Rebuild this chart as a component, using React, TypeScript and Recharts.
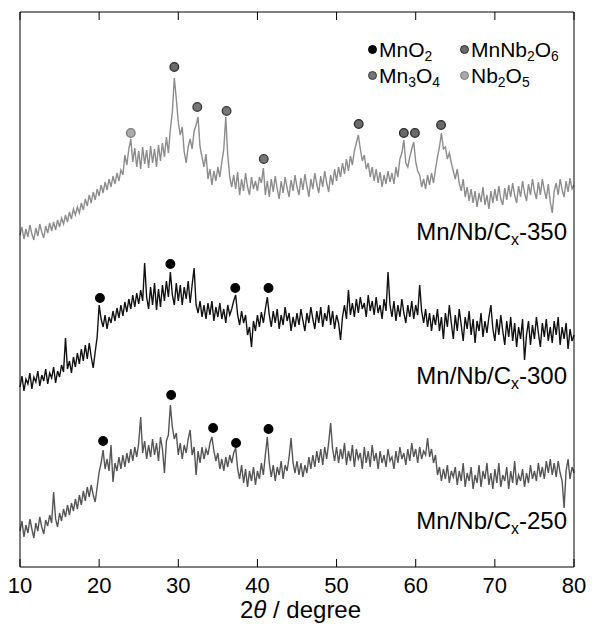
import React from "react";
import { ComposedChart, Line, Scatter, XAxis, YAxis } from "recharts";

// 2θ grid of the scans
const START = 10;
const STEP = 0.25;

const xTicks = [10, 20, 30, 40, 50, 60, 70, 80];

// intensities (a.u., offset stacked), one row = 5°
const mnNbCx350 = [
  332, 340, 328, 338, 330, 342, 333, 327, 339, 331, 343, 335, 329, 341, 334, 344, 336, 345, 337, 347,
  340, 349, 343, 352, 345, 355, 348, 358, 352, 360, 354, 364, 357, 368, 361, 372, 364, 375, 367, 378,
  371, 382, 374, 385, 377, 388, 380, 391, 383, 394, 386, 397, 392, 412, 402, 418, 428, 405, 419, 400,
  416, 398, 420, 403, 417, 399, 421, 404, 418, 400, 422, 406, 424, 410, 430, 414, 438, 455, 489, 468,
  445, 432, 440, 415, 404, 420, 428, 418, 436, 442, 450, 420, 410, 400, 413, 388, 398, 382, 396, 386,
  400, 390, 405, 418, 450, 412, 390, 380, 392, 378, 395, 372, 388, 376, 394, 380, 372, 390, 378, 386,
  376, 390, 384, 399, 372, 386, 370, 388, 375, 391, 378, 368, 386, 374, 390, 379, 370, 387, 376, 392,
  380, 372, 389, 377, 393, 381, 370, 388, 378, 394, 383, 374, 391, 380, 396, 384, 375, 392, 382, 398,
  386, 400, 390, 404, 393, 408, 396, 411, 402, 416, 424, 432, 418, 406, 412, 398, 404, 390, 400, 386,
  398, 384, 395, 380, 392, 383, 396, 385, 394, 383, 400, 390, 408, 414, 427, 404, 400, 410, 418, 425,
  405, 396, 392, 380, 388, 378, 392, 382, 394, 384, 398, 410, 420, 434, 418, 420, 408, 414, 404, 396,
  388, 398, 384, 376, 388, 370, 380, 366, 378, 364, 376, 360, 374, 365, 380, 362, 372, 358, 376, 364,
  378, 366, 381, 368, 362, 379, 367, 382, 370, 384, 372, 364, 381, 370, 386, 374, 366, 383, 372, 388,
  376, 368, 385, 372, 388, 377, 368, 383, 365, 354, 376, 384, 372, 388, 377, 370, 386, 375, 389, 378,
  382,
];

const mnNbCx300 = [
  180, 191, 176, 188, 183, 194, 178, 190, 185, 196, 181, 192, 186, 198, 183, 194, 189, 200, 184, 196,
  190, 202, 195, 229, 198, 206, 194, 210, 200, 214, 203, 218, 206, 222, 208, 224, 210, 199, 215, 230,
  262, 248, 240, 252, 238, 250, 244, 256, 246, 259, 249, 262, 251, 265, 255, 268, 258, 272, 260, 274,
  263, 277, 266, 304, 270, 258, 280, 262, 284, 257, 278, 260, 282, 266, 286, 270, 295, 272, 262, 284,
  266, 282, 262, 280, 268, 286, 264, 282, 299, 262, 254, 266, 250, 262, 248, 264, 252, 266, 246, 260,
  250, 264, 248, 258, 244, 262, 252, 258, 266, 272, 252, 242, 256, 244, 252, 232, 240, 220, 246, 236,
  252, 240, 255, 244, 258, 270, 252, 240, 256, 244, 258, 238, 252, 242, 260, 246, 254, 236, 250, 240,
  254, 242, 258, 246, 236, 254, 244, 260, 248, 238, 256, 244, 260, 240, 254, 246, 262, 242, 256, 238,
  252, 244, 227, 250, 262, 248, 277, 252, 264, 250, 268, 254, 270, 258, 264, 250, 272, 256, 266, 252,
  270, 254, 262, 248, 268, 256, 295, 262, 250, 266, 246, 262, 250, 268, 254, 244, 262, 250, 266, 248,
  262, 252, 282, 256, 244, 258, 240, 254, 236, 252, 242, 258, 236, 250, 228, 254, 240, 262, 244, 228,
  252, 236, 258, 242, 226, 250, 238, 256, 232, 248, 224, 246, 236, 254, 230, 246, 234, 250, 262, 238,
  226, 248, 232, 252, 236, 222, 246, 230, 250, 226, 244, 220, 240, 228, 248, 207, 232, 246, 222, 242,
  228, 250, 234, 220, 244, 230, 248, 226, 240, 224, 246, 232, 250, 222, 240, 228, 244, 218, 238, 226,
  232,
];

const mnNbCx250 = [
  36, 46, 30, 42, 34, 48, 38, 29, 44, 36, 50, 40, 33, 47, 41, 52, 44, 75, 48, 40,
  54, 46, 58, 50, 62, 52, 64, 56, 68, 58, 72, 62, 76, 66, 80, 70, 82, 72, 65, 80,
  95, 104, 117, 98, 108, 96, 122, 85, 104, 96, 110, 98, 112, 100, 114, 104, 118, 106, 120, 110,
  124, 150, 114, 126, 108, 122, 110, 128, 112, 124, 106, 130, 118, 94, 126, 132, 162, 140, 128, 134,
  112, 124, 108, 122, 114, 128, 137, 112, 120, 92, 116, 104, 120, 108, 118, 112, 124, 130, 116, 106,
  114, 98, 108, 96, 110, 100, 112, 104, 114, 119, 98, 88, 102, 84, 98, 80, 96, 86, 100, 82,
  96, 88, 104, 92, 112, 130, 104, 90, 102, 86, 100, 92, 106, 88, 102, 96, 110, 129, 104, 94,
  106, 92, 104, 90, 102, 94, 110, 98, 112, 100, 116, 104, 118, 102, 120, 108, 124, 144, 118, 106,
  120, 104, 118, 108, 124, 102, 116, 106, 122, 100, 118, 108, 114, 98, 120, 104, 116, 100, 122, 106,
  114, 98, 116, 104, 112, 100, 118, 106, 110, 98, 116, 104, 120, 108, 114, 102, 118, 106, 124, 110,
  118, 104, 120, 108, 116, 112, 129, 110, 118, 104, 112, 92, 100, 86, 98, 88, 102, 84, 96, 90,
  100, 82, 96, 86, 104, 80, 94, 86, 100, 78, 92, 84, 102, 80, 96, 88, 104, 82, 94, 78,
  98, 84, 104, 80, 92, 86, 100, 78, 96, 84, 106, 82, 92, 86, 98, 80, 94, 84, 102, 88,
  96, 86, 104, 90, 100, 88, 106, 94, 108, 92, 104, 90, 106, 94, 86, 59, 96, 108, 88, 100,
  94,
];

// phase markers (2θ, height of the symbol)
const mno2Theta = [20.1, 29.0, 37.2, 41.4, 20.5, 29.1, 34.4, 37.3, 41.4];
const mno2Int = [269, 303, 279, 279, 126, 172, 139, 124, 138];
const mnNb2o6Theta = [29.5, 52.8, 58.5, 59.9, 63.2];
const mnNb2o6Int = [500, 443, 434, 434, 442];
const mn3o4Theta = [32.4, 36.1, 40.8];
const mn3o4Int = [460, 456, 408];
const nb2o5Theta = [24.0];
const nb2o5Int = [434];

const rows = mnNbCx350.map((v, i) => ({
  theta: START + i * STEP,
  s350: v,
  s300: mnNbCx300[i],
  s250: mnNbCx250[i],
}));

const toPts = (t: number[], v: number[]) => t.map((x, i) => ({ theta: x, inten: v[i] }));

const FONT = "'Liberation Sans', Arial, sans-serif";
const AXIS_Y = 567;

const dot = (fill: string, stroke: string) => (p: any) =>
  <circle cx={p.cx} cy={p.cy} r={4.3} fill={fill} stroke={stroke} strokeWidth={1.3} />;

const BottomTick = (p: any) => (
  <g>
    <line x1={p.x} x2={p.x} y1={AXIS_Y} y2={AXIS_Y - 8} stroke="#000" />
    <text x={p.x} y={AXIS_Y + 26} textAnchor="middle" fontSize={22} fontFamily={FONT} fill="#000">
      {p.payload.value}
    </text>
  </g>
);

const TopTick = (p: any) => <line x1={p.x} x2={p.x} y1={12} y2={20} stroke="#000" />;

const Sub = ({ children }: { children: React.ReactNode }) => (
  <span style={{ fontSize: "0.66em", position: "relative", top: "0.32em" }}>{children}</span>
);

const Mark = ({ fill, stroke }: { fill: string; stroke: string }) => (
  <span
    style={{
      display: "inline-block",
      width: 7,
      height: 7,
      borderRadius: "50%",
      background: fill,
      border: `1.3px solid ${stroke}`,
      marginRight: 2,
      verticalAlign: "middle",
      position: "relative",
      top: -2,
    }}
  />
);

const abs = (left: number, top: number): React.CSSProperties => ({
  position: "absolute",
  left,
  top,
  fontFamily: FONT,
  fontSize: 21,
  lineHeight: "24px",
  whiteSpace: "nowrap",
  color: "#000",
});

const sample = (top: number, tag: string) => (
  <div style={{ ...abs(0, top), left: "auto", right: 26, fontSize: 24, lineHeight: "28px" }}>
    Mn/Nb/C<Sub>x</Sub>-{tag}
  </div>
);

export default function App() {
  return (
    <div style={{ position: "relative", width: 593, height: 633, background: "#fff" }}>
      <style>{"body{margin:0}"}</style>
      <ComposedChart width={593} height={633} data={rows} margin={{ top: 11, right: 18, bottom: 0, left: 19 }}>
        <XAxis
          xAxisId="b"
          dataKey="theta"
          type="number"
          domain={[10, 80]}
          ticks={xTicks}
          height={66}
          tickSize={0}
          tickMargin={0}
          tickLine={false}
          axisLine={{ stroke: "#000" }}
          tick={<BottomTick />}
          interval={0}
        />
        <XAxis
          xAxisId="t"
          orientation="top"
          dataKey="theta"
          type="number"
          domain={[10, 80]}
          ticks={xTicks}
          height={1}
          tickSize={0}
          tickMargin={0}
          tickLine={false}
          axisLine={{ stroke: "#000" }}
          tick={<TopTick />}
          interval={0}
        />
        <YAxis yAxisId="l" domain={[0, 555]} allowDataOverflow width={1} tick={false} tickLine={false} axisLine={{ stroke: "#000" }} />
        <YAxis yAxisId="r" orientation="right" domain={[0, 555]} allowDataOverflow width={1} tick={false} tickLine={false} axisLine={{ stroke: "#000" }} />
        <Line xAxisId="b" yAxisId="l" dataKey="s350" stroke="#8c8c8c" strokeWidth={1.4} dot={false} isAnimationActive={false} />
        <Line xAxisId="b" yAxisId="l" dataKey="s300" stroke="#111" strokeWidth={1.4} dot={false} isAnimationActive={false} />
        <Line xAxisId="b" yAxisId="l" dataKey="s250" stroke="#555" strokeWidth={1.4} dot={false} isAnimationActive={false} />
        <Scatter xAxisId="b" yAxisId="l" data={toPts(mno2Theta, mno2Int)} dataKey="inten" shape={dot("#000", "#000")} isAnimationActive={false} />
        <Scatter xAxisId="b" yAxisId="l" data={toPts(mnNb2o6Theta, mnNb2o6Int)} dataKey="inten" shape={dot("#6a6a6a", "#2a2a2a")} isAnimationActive={false} />
        <Scatter xAxisId="b" yAxisId="l" data={toPts(mn3o4Theta, mn3o4Int)} dataKey="inten" shape={dot("#777", "#383838")} isAnimationActive={false} />
        <Scatter xAxisId="b" yAxisId="l" data={toPts(nb2o5Theta, nb2o5Int)} dataKey="inten" shape={dot("#aaa", "#7a7a7a")} isAnimationActive={false} />
      </ComposedChart>

      <div style={abs(368, 38)}>
        <Mark fill="#000" stroke="#000" />MnO<Sub>2</Sub>
      </div>
      <div style={abs(460, 38)}>
        <Mark fill="#6a6a6a" stroke="#2a2a2a" />MnNb<Sub>2</Sub>O<Sub>6</Sub>
      </div>
      <div style={abs(368, 64)}>
        <Mark fill="#777" stroke="#383838" />Mn<Sub>3</Sub>O<Sub>4</Sub>
      </div>
      <div style={abs(460, 64)}>
        <Mark fill="#aaa" stroke="#7a7a7a" />Nb<Sub>2</Sub>O<Sub>5</Sub>
      </div>

      {sample(218, "350")}
      {sample(362, "300")}
      {sample(507, "250")}

      <div style={{ ...abs(0, 596), width: 593, left: 0, textAlign: "center", fontSize: 24, lineHeight: "28px" }}>
        <span style={{ marginLeft: 8 }}>2<i>θ</i> / degree</span>
      </div>
    </div>
  );
}
